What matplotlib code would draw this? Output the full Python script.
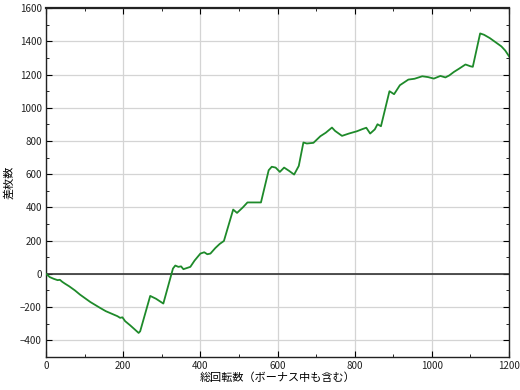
import numpy as np
import matplotlib
matplotlib.use('Agg')
import matplotlib.pyplot as plt
from matplotlib.ticker import MultipleLocator

plt.rcParams['font.family'] = ['Noto Sans CJK JP', 'DejaVu Sans']

# spins (x) vs. coin difference (y)
spins = [0, 10, 20, 30, 36, 42, 49, 60, 75, 88, 100, 115, 140, 155, 170, 185, 192,
         198, 205, 218, 230, 240, 244, 270, 285, 304, 329, 335, 343, 350,
         356, 365, 374, 385, 400, 410, 418, 426, 439, 450, 461, 485, 495,
         510, 522, 540, 557, 577, 585, 595, 606, 617, 630, 643, 655, 667,
         676, 693, 711, 725, 741, 749, 767, 785, 806, 819, 830, 840, 852, 859,
         868, 890, 902, 917, 939, 955, 975, 990, 1005, 1022, 1035, 1045,
         1057, 1070, 1087, 1100, 1106, 1125, 1135, 1150, 1165, 1180, 1190, 1200]
diff = [0, -20, -30, -38, -36, -48, -59, -75, -100, -125, -145, -170, -205, -225,
        -240, -255, -265, -262, -285, -310, -335, -356, -346, -133, -150, -179,
        32, 50, 42, 45, 28, 35, 42, 80, 122, 130, 118, 122, 156, 180, 198,
        387, 367, 400, 430, 430, 430, 624, 645, 640, 614, 640, 620,
        598, 650, 791, 785, 789, 829, 850, 881, 861, 831, 845, 859, 871, 880,
        845, 870, 901, 889, 1100, 1082, 1136, 1170, 1175, 1190, 1185,
        1176, 1192, 1183, 1195, 1216, 1235, 1261, 1250, 1247, 1448, 1440, 1420,
        1395, 1370, 1345, 1310]

fig = plt.figure(figsize=(5.2, 3.9), dpi=100)
ax = fig.add_axes([0.0885, 0.085, 0.8905, 0.894])

ax.grid(True, which='major', color='#d4d4d4', lw=0.9)
ax.set_axisbelow(True)
ax.axhline(0, color='#333333', lw=1.2, zorder=2)
ax.plot(spins, diff, color='#1e8a2a', lw=1.3, zorder=3)

ax.set_xlim(0, 1200)
ax.set_ylim(-500, 1600)
ax.xaxis.set_major_locator(MultipleLocator(200))
ax.xaxis.set_minor_locator(MultipleLocator(100))
ax.yaxis.set_major_locator(MultipleLocator(200))
ax.yaxis.set_minor_locator(MultipleLocator(100))
ax.tick_params(which='both', direction='in', top=True, right=True,
               labelsize=7, labelcolor='#222222', pad=3)
ax.tick_params(which='major', length=4)
ax.tick_params(which='minor', length=2.5)
for s in ax.spines.values():
    s.set_color('#222222')
    s.set_linewidth(1.0)
ax.spines['top'].set_linewidth(1.6)

ax.set_xlabel('総回転数（ボーナス中も含む）', fontsize=8, labelpad=1)
ax.set_ylabel('差枚数', fontsize=8, labelpad=4)

fig.savefig('out.png', dpi=100)
